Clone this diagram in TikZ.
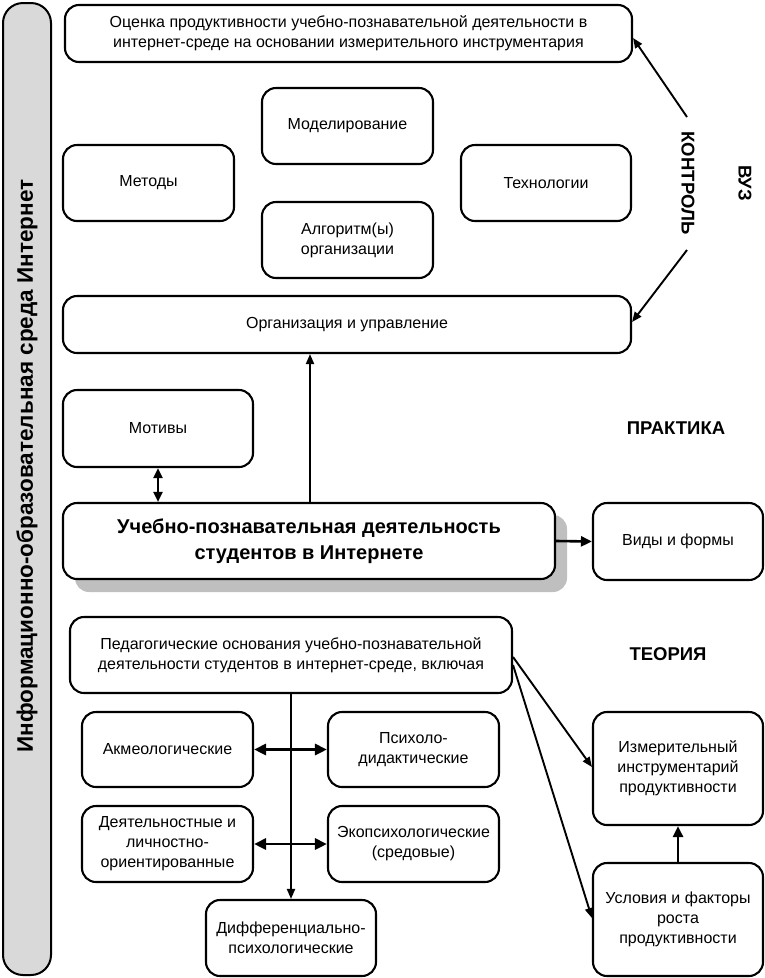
\documentclass[tikz,border=0pt]{standalone}
\usepackage{fontspec}
\setmainfont{Liberation Sans}
\usetikzlibrary{arrows.meta}
\begin{document}
\begin{tikzpicture}[x=1pt,y=-1pt,
  box/.style={draw, line width=2.1pt, rounded corners=14pt, fill=white, align=center, inner sep=2pt,
    font=\fontsize{16}{20}\selectfont},
  conn/.style={line width=1.9pt, -{Triangle[length=10pt,width=8pt]}},
  tconn/.style={line width=2.6pt, -{Triangle[length=11pt,width=10pt]}},
  dconn/.style={line width=2.2pt, {Triangle[length=10pt,width=9pt]}-{Triangle[length=10pt,width=9pt]}},
  tdconn/.style={line width=2.8pt, {Triangle[length=12pt,width=11pt]}-{Triangle[length=12pt,width=11pt]}},
  lab/.style={font=\fontsize{18.5}{22}\selectfont\bfseries}]
\useasboundingbox (0,0) rectangle (764,978);
% left bar
\draw[line width=2pt, rounded corners=20pt, fill=black!15] (3,3) rectangle (51,975);
\node[rotate=90, font=\fontsize{22.5}{26}\selectfont\bfseries] (env) at (27,466) {Информационно-образовательная среда Интернет};
% top area
\node[box, minimum width=567pt, minimum height=57pt] (ocenka) at (348.5,33.5)
  {Оценка продуктивности учебно-познавательной деятельности в\\интернет-среде на основании измерительного инструментария};
\node[box, minimum width=171pt, minimum height=76pt] (model) at (347.5,126) {Моделирование};
\node[box, minimum width=171pt, minimum height=76pt] (metod) at (148.5,183) {Методы};
\node[box, minimum width=170pt, minimum height=76pt] (tehn) at (546,183) {Технологии};
\node[box, minimum width=171pt, minimum height=76pt] (algo) at (347.5,240) {Алгоритм(ы)\\организации};
\node[box, minimum width=568pt, minimum height=57pt] (org) at (347,324.5) {Организация и управление};
\node[lab, rotate=-90] (kontr) at (688,183) {КОНТРОЛЬ};
\node[lab, rotate=-90] (vuz) at (745,183) {ВУЗ};
\coordinate (k1) at (687,117);
\coordinate (k2) at (687,250);
\draw[conn] (k1) -- (ocenka.east |- 0,38);
\draw[conn] (k2) -- (org.east |- 0,322);
% practice
\node[box, minimum width=190pt, minimum height=77pt] (motiv) at (158,428.5) {Мотивы};
\fill[black!25, rounded corners=14pt] (75,515) rectangle (567,592);
\node[box, minimum width=492pt, minimum height=76pt, font=\fontsize{20}{26}\selectfont\bfseries] (uch) at (309,541)
  {Учебно-познавательная деятельность\\студентов в Интернете};
\node[box, minimum width=170pt, minimum height=77pt] (vidy) at (678,541.5) {Виды и формы};
\node[lab] (prak) at (676,428) {ПРАКТИКА};
\draw[dconn] (motiv.south -| 158,0) -- (uch.north -| 158,0);
\draw[conn] (uch.north -| 310,0) -- (org.south -| 310,0);
\draw[tconn] (uch.east) -- (vidy.west);
% theory
\node[box, minimum width=442pt, minimum height=76pt] (ped) at (291,655)
  {Педагогические основания учебно-познавательной\\деятельности студентов в интернет-среде, включая};
\node[lab] (teor) at (668,654) {ТЕОРИЯ};
\node[box, minimum width=171pt, minimum height=75pt] (akm) at (167.5,749.5) {Акмеологические};
\node[box, minimum width=171pt, minimum height=75pt] (psi) at (413.5,749.5) {Психоло-\\дидактические};
\node[box, minimum width=171pt, minimum height=76pt] (deyat) at (167.5,844) {Деятельностные и\\личностно-\\ориентированные};
\node[box, minimum width=171pt, minimum height=76pt] (eko) at (413.5,844) {Экопсихологические\\(средовые)};
\node[box, minimum width=170pt, minimum height=76pt] (diff) at (291,938) {Дифференциально-\\психологические};
\node[box, minimum width=170pt, minimum height=113pt] (izm) at (678,768.5) {Измерительный\\инструментарий\\продуктивности};
\node[box, minimum width=170pt, minimum height=113pt] (usl) at (678,919.5) {Условия и факторы\\роста\\продуктивности};
\draw[conn] (ped.south) -- (diff.north);
\draw[tdconn] (akm.east) -- (psi.west);
\draw[tdconn] (deyat.east) -- (eko.west);
\draw[conn] (ped.east |- 0,657) -- (izm.west |- 0,767);
\draw[conn] (ped.east |- 0,665) -- (usl.west |- 0,918);
\draw[tconn] (usl.north) -- (izm.south);
\end{tikzpicture}
\end{document}
